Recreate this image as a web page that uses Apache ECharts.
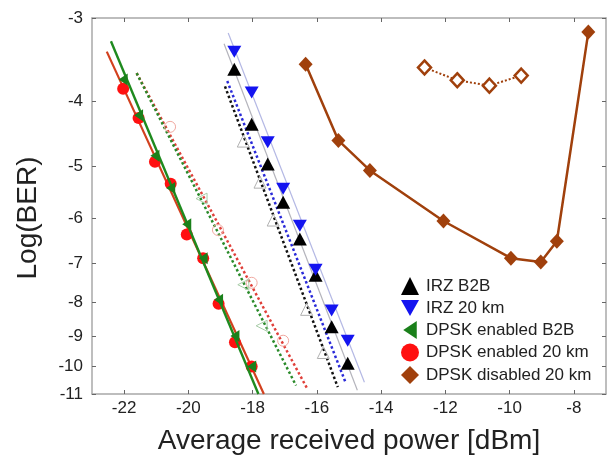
<!DOCTYPE html>
<html><head><meta charset="utf-8">
<script src="https://cdn.jsdelivr.net/npm/echarts@6/dist/echarts.min.js"></script>
<style>html,body{margin:0;padding:0;background:#fff}#c{width:614px;height:460px}</style>
</head><body><div id="c"></div>
<script>
// ---- data (x = average received power [dBm], L = log10(BER)) ----
const xTicks = [-22, -20, -18, -16, -14, -12, -10, -8];
const yTicks = [-3, -4, -5, -6, -7, -8, -9, -10, -11];

const irzX      = [-18.57, -18.03, -17.53, -17.05, -16.53, -16.04, -15.54, -15.04];
const irzB2B    = [-3.58, -4.33, -4.97, -5.67, -6.44, -7.30, -8.72, -9.89];
const irz20     = [-3.37, -3.88, -4.61, -5.41, -6.15, -7.16, -8.24, -9.15];

const dpskX     = [-22.03, -21.55, -21.04, -20.55, -20.05, -19.54, -19.06, -18.55, -18.03];
const dpskB2B   = [-3.71, -4.20, -4.83, -5.40, -6.12, -6.88, -7.94, -9.00, -10.0];
const dpsk20    = [-3.83, -4.24, -4.93, -5.32, -6.34, -6.88, -8.05, -9.20, -10.0];

const disX      = [-16.35, -15.33, -14.35, -12.06, -9.96, -9.03, -8.53, -7.55];
const dis20     = [-3.52, -4.58, -5.08, -6.05, -6.88, -6.97, -6.49, -3.15];
const disHX     = [-12.65, -11.63, -10.63, -9.64];
const disH20    = [-3.56, -3.72, -3.79, -3.66];

// fitted / theoretical lines (end points)
const irzB2BFitX = [-18.89, -14.74], irzB2BFitL = [-3.28, -10.86];
const irz20FitX  = [-18.76, -14.52], irz20FitL  = [-3.16, -10.56];
const irzB2BDotX = [-18.86, -15.35], irzB2BDotL = [-3.80, -10.74];
const irz20DotX  = [-18.79, -15.10], irz20DotL  = [-3.73, -10.59];
const dpB2BFitX  = [-22.41, -17.82], dpB2BFitL  = [-3.25, -11.0];
const dp20FitX   = [-22.54, -17.65], dp20FitL   = [-3.37, -11.0];
const dpB2BDotX  = [-21.61, -16.65], dpB2BDotL  = [-3.63, -10.68];
const dp20DotX   = [-21.61, -16.30], dp20DotL   = [-3.63, -10.80];

// faint simulated markers
const simRedX   = [-20.57, -19.08, -18.03, -17.05], simRedL   = [-4.37, -6.24, -7.49, -9.15];
const simGreenX = [-19.59, -18.29, -17.72],         simGreenL = [-5.60, -7.54, -8.69];
const simGreyX  = [-18.29, -17.77, -17.36, -16.32, -15.80], simGreyL = [-4.59, -5.29, -6.03, -8.21, -9.53];

// ---- BER scale transform ----
const T = L => -Math.log10(-L);
const pts = (xs, ls) => xs.map((x, i) => [x, T(ls[i])]);
const yTickVals = yTicks.map(T);

const FONT = "'Liberation Sans', Arial, sans-serif";
const DOWN = 'path://M0,0L10,0L5,9Z';
const LEFT = 'path://M9,0L9,12L0,6Z';

const chart = echarts.init(document.getElementById('c'), null, {renderer: 'canvas'});

function lineS(xs, ls, color, width, type, z) {
  return {type: 'line', data: pts(xs, ls), showSymbol: false, symbol: 'none', silent: true,
    lineStyle: {color, width, type}, z: z || 2, animation: false};
}
function hollow(xs, ls, symbol, color, size) {
  return {type: 'scatter', data: pts(xs, ls), symbol, symbolSize: size, silent: true,
    itemStyle: {color: 'rgba(255,255,255,0)', borderColor: color, borderWidth: 1, opacity: 1}, z: 3, animation: false};
}

const option = {
  animation: false,
  grid: {left: 92, right: 8, top: 18, bottom: 63},
  xAxis: [{
    type: 'value', min: -23, max: -7, position: 'bottom',
    name: 'Average received power [dBm]', nameLocation: 'middle', nameGap: 33,
    nameTextStyle: {fontSize: 28, color: '#222', fontFamily: FONT},
    axisLine: {show: true, lineStyle: {color: '#a8a8a8', width: 1.5}},
    axisTick: {show: true, inside: true, length: 4, customValues: xTicks, lineStyle: {color: '#666'}},
    axisLabel: {customValues: xTicks, fontSize: 17, color: '#222', fontFamily: FONT, margin: 6},
    splitLine: {show: false}
  }, {
    type: 'value', min: -23, max: -7, position: 'top',
    axisLine: {show: true, lineStyle: {color: '#a8a8a8', width: 1.5}},
    axisTick: {show: true, inside: true, length: 4, customValues: xTicks, lineStyle: {color: '#666'}},
    axisLabel: {show: false}, splitLine: {show: false}
  }],
  yAxis: [{
    type: 'value', min: T(-11), max: T(-3), position: 'left',
    name: 'Log(BER)', nameLocation: 'middle', nameGap: 50,
    nameTextStyle: {fontSize: 28, color: '#222', fontFamily: FONT, padding: [0, 24, 0, 0]},
    axisLine: {show: true, lineStyle: {color: '#a8a8a8', width: 1.5}},
    axisTick: {show: true, inside: true, length: 4, customValues: yTickVals, lineStyle: {color: '#666'}},
    axisLabel: {customValues: yTickVals, fontSize: 17, color: '#222', fontFamily: FONT, margin: 9,
      formatter: v => String(Math.round(-Math.pow(10, -v)))},
    splitLine: {show: false}
  }, {
    type: 'value', min: T(-11), max: T(-3), position: 'right',
    axisLine: {show: true, lineStyle: {color: '#a8a8a8', width: 1.5}},
    axisTick: {show: true, inside: true, length: 4, customValues: yTickVals, lineStyle: {color: '#666'}},
    axisLabel: {show: false}, splitLine: {show: false}
  }],
  legend: {
    orient: 'vertical', left: 396, top: 272, itemWidth: 18, itemHeight: 18, itemGap: 4.5,
    textStyle: {fontSize: 17, color: '#222', fontFamily: FONT, padding: [0, 0, 0, 2]},
    data: [
      {name: 'IRZ B2B', icon: 'triangle'},
      {name: 'IRZ 20 km', icon: DOWN},
      {name: 'DPSK enabled B2B', icon: LEFT},
      {name: 'DPSK enabled 20 km', icon: 'circle'},
      {name: 'DPSK disabled 20 km', icon: 'diamond'}
    ]
  },
  series: [
    // dotted theoretical lines
    lineS(dp20DotX, dp20DotL, '#e0403a', 2.5, 'dotted', 1),
    lineS(dpB2BDotX, dpB2BDotL, '#2a8a2a', 2.5, 'dotted', 1),
    lineS(irzB2BDotX, irzB2BDotL, '#111111', 2.5, 'dotted', 1),
    lineS(irz20DotX, irz20DotL, '#2a2ad8', 2.5, 'dotted', 1),
    hollow(simRedX, simRedL, 'circle', '#f0a8a0', 11),
    hollow(simGreenX, simGreenL, LEFT, '#a8cca8', 11),
    hollow(simGreyX, simGreyL, 'triangle', '#b0b0b0', 12),
    // IRZ fits
    lineS(irzB2BFitX, irzB2BFitL, '#b4b4bc', 1.2, 'solid', 2),
    lineS(irz20FitX, irz20FitL, '#b4b8e4', 1.2, 'solid', 2),
    // DPSK enabled fits
    lineS(dp20FitX, dp20FitL, '#d2401e', 2.2, 'solid', 2),
    {name: 'DPSK enabled 20 km', type: 'scatter', data: pts(dpskX, dpsk20), symbol: 'circle', symbolSize: 12,
      itemStyle: {color: '#ff1010', opacity: 1}, z: 4},
    lineS(dpB2BFitX, dpB2BFitL, '#1e8a1e', 2.4, 'solid', 5),
    {name: 'DPSK enabled B2B', type: 'scatter', data: pts(dpskX, dpskB2B), symbol: LEFT, symbolSize: [9, 12],
      itemStyle: {color: '#1a801a', opacity: 1}, z: 6},
    {name: 'IRZ B2B', type: 'scatter', data: pts(irzX, irzB2B), symbol: 'triangle', symbolSize: [14, 13],
      itemStyle: {color: '#000000', opacity: 1}, z: 4},
    {name: 'IRZ 20 km', type: 'scatter', data: pts(irzX, irz20), symbol: DOWN, symbolSize: [14, 12],
      itemStyle: {color: '#1414f0', opacity: 1}, z: 4},
    // DPSK disabled
    {name: 'DPSK disabled 20 km', type: 'line', data: pts(disX, dis20), symbol: 'diamond', symbolSize: [14, 15],
      showAllSymbol: true, lineStyle: {color: '#a0400c', width: 2.5}, itemStyle: {color: '#a0400c'}, z: 4},
    {type: 'line', data: pts(disHX, disH20), symbol: 'diamond', symbolSize: [13, 14], showAllSymbol: true,
      lineStyle: {color: '#a0400c', width: 2, type: 'dotted'},
      itemStyle: {color: '#ffffff', borderColor: '#a0400c', borderWidth: 2.5}, z: 4}
  ]
};
chart.setOption(option);
</script>
</body></html>
